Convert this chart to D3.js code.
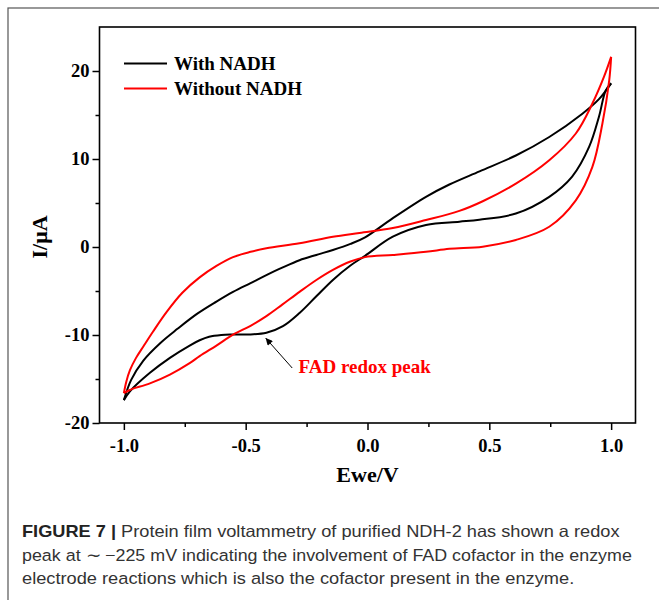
<!DOCTYPE html>
<html><head><meta charset="utf-8">
<script src="https://cdn.jsdelivr.net/npm/d3@7"></script>
<style>html,body{margin:0;padding:0;background:#fff;} svg{display:block;}</style>
</head><body><div id="chart"></div>
<script>
// ---------- data ----------
const xTicks = [-1.0, -0.5, 0.0, 0.5, 1.0];
const xMinorTicks = [-0.75, -0.25, 0.25, 0.75];
const yTicks = [-20, -10, 0, 10, 20];
const yMinorTicks = [-15, -5, 5, 15];
const seriesNames = ["With NADH", "Without NADH"];
const seriesColors = ["#000000", "#ff0000"];
const xTitle = "Ewe/V";
const yTitle = "I/\u03BCA";
const annotationText = "FAD redox peak";
const annotationTip = [-0.418, -10.35];
const annotationTail = [-0.309, -13.75];
const annotationLabel = [-0.283, -14.33];

// With NADH, forward scan (upper branch)
const withFwdV = [-1.0, -0.97, -0.92, -0.85, -0.78, -0.70, -0.62, -0.552, -0.48, -0.415, -0.35, -0.279, -0.21, -0.142, -0.07, -0.01, 0.1, 0.24, 0.336, 0.46, 0.609, 0.746, 0.882, 0.95, 1.0];
const withFwdI = [-17.4, -15.1, -12.9, -10.9, -9.3, -7.6, -6.2, -5.1, -4.1, -3.2, -2.35, -1.5, -0.9, -0.34, 0.35, 1.1, 3.2, 5.7, 7.1, 8.6, 10.4, 12.5, 15.15, 16.8, 18.6];
// With NADH, reverse scan (lower branch)
const withRevV = [-1.0, -0.975, -0.893, -0.811, -0.73, -0.689, -0.65, -0.60, -0.552, -0.48, -0.415, -0.347, -0.279, -0.21, -0.142, -0.07, -0.01, 0.104, 0.24, 0.377, 0.459, 0.609, 0.746, 0.84, 0.91, 0.95, 0.978, 1.0];
const withRevI = [-17.4, -16.4, -14.3, -12.6, -11.2, -10.6, -10.2, -10.0, -9.95, -9.93, -9.75, -9.0, -7.5, -5.6, -3.74, -2.1, -1.0, 1.17, 2.5, 2.87, 3.1, 3.8, 5.7, 8.0, 11.4, 14.8, 17.8, 18.6];
// Without NADH, forward scan
const withoutFwdV = [-1.0, -0.99, -0.975, -0.95, -0.92, -0.88, -0.825, -0.76, -0.689, -0.62, -0.552, -0.48, -0.415, -0.279, -0.142, -0.033, 0.104, 0.24, 0.377, 0.473, 0.609, 0.746, 0.855, 0.923, 0.97, 1.0];
const withoutFwdI = [-16.6, -15.3, -14.0, -12.6, -11.3, -9.6, -7.4, -5.2, -3.45, -2.15, -1.15, -0.55, -0.15, 0.42, 1.16, 1.6, 2.15, 3.06, 4.1, 5.2, 7.2, 9.86, 12.9, 16.3, 19.3, 21.6];
// Without NADH, reverse scan
const withoutRevV = [-1.0, -0.99, -0.975, -0.962, -0.893, -0.811, -0.73, -0.689, -0.62, -0.552, -0.48, -0.415, -0.35, -0.279, -0.21, -0.142, -0.07, -0.01, 0.104, 0.24, 0.336, 0.473, 0.609, 0.746, 0.855, 0.923, 0.964, 0.992, 1.0];
const withoutRevI = [-16.6, -16.45, -16.25, -16.1, -15.5, -14.5, -13.2, -12.4, -11.2, -9.97, -8.95, -7.85, -6.55, -5.1, -3.75, -2.6, -1.65, -1.15, -0.9, -0.55, -0.2, 0.04, 0.8, 2.3, 5.3, 9.1, 14.0, 18.9, 21.6];

const captionBold = "FIGURE 7 |";
const captionLines = [
  " Protein film voltammetry of purified NDH-2 has shown a redox",
  "peak at \u223C \u2212225 mV indicating the involvement of FAD cofactor in the enzyme",
  "electrode reactions which is also the cofactor present in the enzyme."
];
const captionWidths = [598, 611, 553];

// ---------- drawing ----------
const W = 659, H = 600;
const svg = d3.select("#chart").append("svg").attr("width", W).attr("height", H);
svg.append("rect").attr("width", W).attr("height", H).attr("fill", "#fff");
svg.append("rect").attr("x", 8).attr("y", 8).attr("width", 720).attr("height", 720)
  .attr("fill", "none").attr("stroke", "#555").attr("stroke-width", 1.2);

const plot = {left: 99.5, right: 635.5, top: 27, bottom: 423};
const x = d3.scaleLinear().domain([-1.1, 1.1]).range([plot.left, plot.right]);
const y = d3.scaleLinear().domain([-20, 25]).range([plot.bottom, plot.top]);

const serif = "'Liberation Serif', 'Times New Roman', serif";

function styleAxis(g) {
  g.select(".domain").remove();
  g.selectAll(".tick line").attr("stroke", "#000").attr("stroke-width", 1.5);
  g.selectAll(".tick text").attr("fill", "#000")
    .style("font-family", serif).style("font-weight", "bold").style("font-size", "18.5px");
}

svg.append("g").attr("transform", `translate(0,${plot.bottom})`)
  .call(d3.axisBottom(x).tickValues(xMinorTicks).tickSize(4).tickFormat(""))
  .call(styleAxis);
svg.append("g").attr("transform", `translate(0,${plot.bottom})`)
  .call(d3.axisBottom(x).tickValues(xTicks).tickSize(7).tickPadding(9).tickFormat(d => d.toFixed(1)))
  .call(styleAxis);
svg.append("g").attr("transform", `translate(${plot.left},0)`)
  .call(d3.axisLeft(y).tickValues(yMinorTicks).tickSize(4).tickFormat(""))
  .call(styleAxis);
svg.append("g").attr("transform", `translate(${plot.left},0)`)
  .call(d3.axisLeft(y).tickValues(yTicks).tickSize(7).tickPadding(3).tickFormat(d => String(d)))
  .call(styleAxis);

// curves
const line = d3.line().x(d => x(d[0])).y(d => y(d[1])).curve(d3.curveCatmullRom.alpha(0.5));
const zip = (a, b) => a.map((v, i) => [v, b[i]]);
const curves = [
  {pts: zip(withFwdV, withFwdI), c: seriesColors[0]},
  {pts: zip(withRevV, withRevI), c: seriesColors[0]},
  {pts: zip(withoutFwdV, withoutFwdI), c: seriesColors[1]},
  {pts: zip(withoutRevV, withoutRevI), c: seriesColors[1]}
];
svg.append("g").selectAll("path").data(curves).join("path")
  .attr("d", d => line(d.pts)).attr("fill", "none")
  .attr("stroke", d => d.c).attr("stroke-width", 2).attr("stroke-linejoin", "round");

// frame
svg.append("rect").attr("x", plot.left).attr("y", plot.top)
  .attr("width", plot.right - plot.left).attr("height", plot.bottom - plot.top)
  .attr("fill", "none").attr("stroke", "#000").attr("stroke-width", 1.6);

// legend
const legend = svg.append("g");
seriesNames.forEach((name, i) => {
  const ly = 63.5 + i * 25;
  legend.append("line").attr("x1", 124).attr("x2", 167).attr("y1", ly).attr("y2", ly)
    .attr("stroke", seriesColors[i]).attr("stroke-width", 2);
  legend.append("text").attr("x", 174).attr("y", ly + 6.5).text(name)
    .style("font-family", serif).style("font-weight", "bold").style("font-size", "19px").attr("fill", "#000");
});

// axis titles
svg.append("text").attr("x", (plot.left + plot.right) / 2).attr("y", 482).attr("text-anchor", "middle")
  .text(xTitle).style("font-family", serif).style("font-weight", "bold").style("font-size", "22px");
svg.append("text").attr("transform", "translate(47,237) rotate(-90)").attr("text-anchor", "middle")
  .text(yTitle).style("font-family", serif).style("font-weight", "bold").style("font-size", "22px");

// annotation
svg.append("defs").append("marker").attr("id", "arrow").attr("viewBox", "0 0 10 10")
  .attr("refX", 10).attr("refY", 5).attr("markerWidth", 9).attr("markerHeight", 7)
  .attr("markerUnits", "userSpaceOnUse").attr("orient", "auto")
  .append("path").attr("d", "M0,0 L10,5 L0,10 Z").attr("fill", "#000");
svg.append("line")
  .attr("x1", x(annotationTail[0])).attr("y1", y(annotationTail[1]))
  .attr("x2", x(annotationTip[0])).attr("y2", y(annotationTip[1]))
  .attr("stroke", "#000").attr("stroke-width", 1).attr("marker-end", "url(#arrow)");
svg.append("text").attr("x", x(annotationLabel[0])).attr("y", y(annotationLabel[1]))
  .text(annotationText).attr("fill", "#ff0000")
  .style("font-family", serif).style("font-weight", "bold").style("font-size", "19px");

// caption
const sans = "'Liberation Sans', Arial, sans-serif";
const capG = svg.append("g");
const baselines = [537, 560.5, 583.5];
captionLines.forEach((t, i) => {
  const te = capG.append("text").attr("x", 0).attr("y", 0)
    .style("font-family", sans).style("font-size", "16.5px").attr("fill", "#333");
  if (i === 0) te.append("tspan").style("font-weight", "bold").attr("fill", "#222").text(captionBold);
  te.append("tspan").text(t);
  const nat = te.node().getComputedTextLength();
  te.attr("transform", `translate(22,${baselines[i]}) scale(${captionWidths[i] / nat},1)`);
});
</script>
</body></html>
